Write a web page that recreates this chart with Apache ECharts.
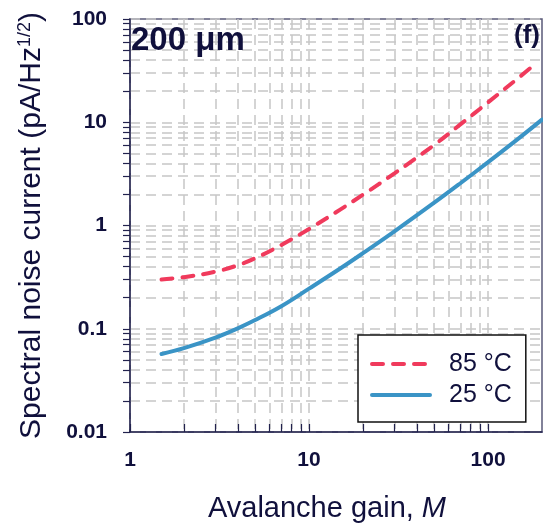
<!DOCTYPE html>
<html>
<head>
<meta charset="utf-8">
<script src="https://cdn.jsdelivr.net/npm/echarts@6/dist/echarts.min.js"></script>
<style>
html,body{margin:0;padding:0;background:#fff;}
#c{width:543px;height:529px;}
</style>
</head>
<body>
<div id="c"></div>
<script>
// ---- data ----
const gain85  = [1.5, 2, 3, 4, 5, 7, 10, 15, 20, 30, 50, 70, 100, 150, 185];
const noise85 = [0.30, 0.316, 0.357, 0.412, 0.482, 0.648, 0.925, 1.434, 1.985, 3.20, 6.03, 9.53, 15.6, 27.5, 37.1];
const gain25  = [1.5, 2, 3, 4, 5, 7, 10, 15, 20, 30, 50, 70, 100, 150, 200];
const noise25 = [0.057, 0.0649, 0.0821, 0.101, 0.1213, 0.1653, 0.2447, 0.3854, 0.5396, 0.878, 1.662, 2.566, 4.109, 7.10, 10.6];
const seriesNames = ['85 °C', '25 °C'];

const xLabelTicks = [1, 10, 100];
const yLabelTicks = [0.01, 0.1, 1, 10, 100];
const xGridTicks = [1,2,3,4,5,6,7,8,9,10,20,30,40,50,60,70,80,90,100];
const yGridTicks = [0.01,0.02,0.03,0.04,0.05,0.06,0.07,0.08,0.09,
                    0.1,0.2,0.3,0.4,0.5,0.6,0.7,0.8,0.9,
                    1,2,3,4,5,6,7,8,9,
                    10,20,30,40,50,60,70,80,90,100];

const navy = '#10103c';
const axisCol = '#22224e';
const gridCol = '#c6c6c6';
const FONT = '"Liberation Sans", Arial, sans-serif';

function fmt(v){ return String(Number(Number(v).toPrecision(6))); }

const chart = echarts.init(document.getElementById('c'), null, {renderer:'canvas'});
chart.setOption({
  animation: false,
  backgroundColor: '#fff',
  textStyle: {fontFamily: FONT},
  title: [
    {text: '200 μm', left: 131, top: 24, padding: 0,
     textStyle: {fontFamily: FONT, fontSize: 33, fontWeight: 'bold', color: navy}},
    {text: '(f)', right: 3, top: 23, padding: 0,
     textStyle: {fontFamily: FONT, fontSize: 26, fontWeight: 'bold', color: navy}}
  ],
  grid: {left: 130, right: 1, top: 19, bottom: 97, show: true, borderColor: '#5a5a78', borderWidth: 1.5, outerBoundsMode: 'none', containLabel: false},
  legend: {
    orient: 'vertical', left: 358, top: 335,
    padding: [16, 14, 14, 12],
    backgroundColor: '#fff', borderColor: '#111', borderWidth: 1.5, borderRadius: 0,
    itemWidth: 58, itemHeight: 14, itemGap: 5,
    itemStyle: {opacity: 0},
    lineStyle: {width: 'inherit'},
    textStyle: {fontFamily: FONT, fontSize: 25, color: navy, lineHeight: 26, padding: [0, 0, 0, 14]},
    data: seriesNames
  },
  xAxis: {
    type: 'log', logBase: 10, min: 1, max: 200,
    axisLine: {lineStyle: {color: axisCol, width: 1.5}},
    axisTick: {show: true, inside: true, length: 8, customValues: xGridTicks, lineStyle: {color: axisCol, width: 1.2}},
    axisLabel: {customValues: xLabelTicks, formatter: fmt, margin: 18, fontFamily: FONT, fontSize: 21, fontWeight: 'bold', color: navy},
    splitLine: {show: true, lineStyle: {color: gridCol, width: 1.5, type: [10, 6]}},
    minorTick: {show: false}, minorSplitLine: {show: false},
    name: '{a|Avalanche gain, }{i|M}',
    nameLocation: 'middle', nameGap: 62,
    nameTextStyle: {padding: [0, 18, 0, 0], rich: {
      a: {fontFamily: FONT, fontSize: 29, color: navy},
      i: {fontFamily: FONT, fontSize: 29, color: navy, fontStyle: 'italic'}
    }}
  },
  yAxis: {
    type: 'log', logBase: 10, min: 0.01, max: 100,
    axisLine: {lineStyle: {color: axisCol, width: 1.5}},
    axisTick: {show: true, inside: false, length: 7, customValues: yGridTicks, lineStyle: {color: axisCol, width: 1.2}},
    axisLabel: {customValues: yLabelTicks, formatter: fmt, margin: 23, fontFamily: FONT, fontSize: 21, fontWeight: 'bold', color: navy},
    splitLine: {show: true, lineStyle: {color: gridCol, width: 1.5, type: [10, 6]}},
    minorTick: {show: false}, minorSplitLine: {show: false},
    name: '{a|Spectral noise current (pA/Hz}{s|1/2}{a|)}',
    nameLocation: 'middle', nameRotate: 90, nameGap: 82,
    nameTextStyle: {rich: {
      a: {fontFamily: FONT, fontSize: 30, color: navy, lineHeight: 32},
      s: {fontFamily: FONT, fontSize: 18, color: navy, verticalAlign: 'top', lineHeight: 32}
    }}
  },
  series: [
    {name: seriesNames[0], type: 'line', symbol: 'none', smooth: 0.4,
     lineStyle: {color: '#f03a5c', width: 4, type: [11, 10], cap: 'round'},
     itemStyle: {color: '#f03a5c'},
     data: gain85.map((g, i) => [g, noise85[i]])},
    {name: seriesNames[1], type: 'line', symbol: 'none', smooth: 0.4,
     lineStyle: {color: '#3a94c6', width: 4, cap: 'round'},
     itemStyle: {color: '#3a94c6'},
     data: gain25.map((g, i) => [g, noise25[i]])}
  ]
});
</script>
</body>
</html>
